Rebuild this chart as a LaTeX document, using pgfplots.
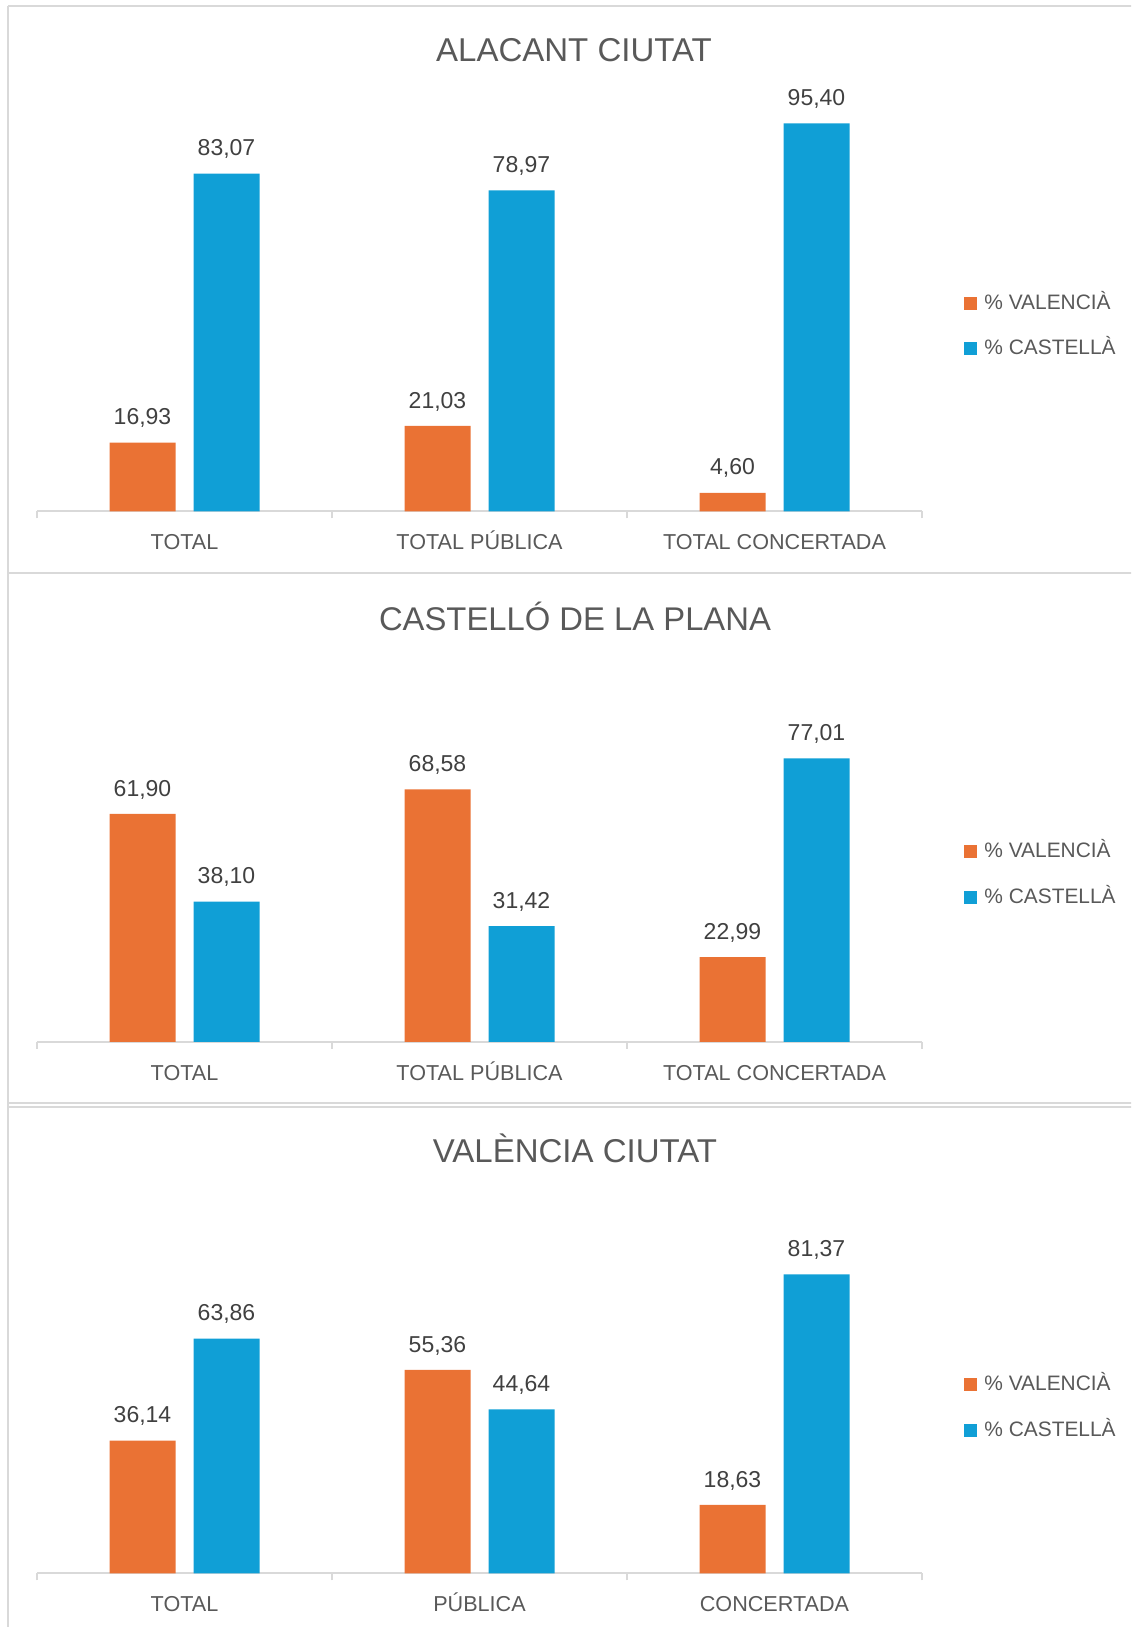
\documentclass[border=0pt]{standalone}
\usepackage{fontspec}
\setmainfont{Liberation Sans}
\usepackage{pgfplots}
\pgfplotsset{compat=1.18}
\definecolor{cOr}{HTML}{EA7234}
\definecolor{cBl}{HTML}{109FD6}
\definecolor{cGr}{HTML}{D9D9D9}
\definecolor{cTx}{HTML}{595959}
\definecolor{cLb}{HTML}{404040}
\pgfplotsset{panel/.style={
  scale only axis, width=442.5pt, ymin=0, ymax=100,
  xmin=-0.5, xmax=2.5, xtick={0,1,2}, major tick length=0pt,
  axis x line*=bottom, axis y line=none,
  axis line style={cGr, line width=1pt},
  ybar=9pt, bar width=33pt,
  clip=false,
  extra x ticks={-0.5,0.5,1.5,2.5}, extra x tick labels={},
  extra x tick style={major tick length=3.5pt, tick align=outside, tick style={cGr, line width=1pt}},
  xticklabel style={font=\fontsize{10.8}{12}\selectfont, text=cTx, anchor=base, yshift=-19.2pt},
  nodes near coords={\pgfmathprintnumber[fixed,fixed zerofill,precision=2,use comma]{\pgfplotspointmeta}},
  nodes near coords style={font=\fontsize{11.5}{13}\selectfont, text=cLb, anchor=south, inner sep=0pt, text depth=0pt, yshift=8.7pt},
  legend style={draw=none, fill=none, inner sep=0pt, anchor=west, font=\fontsize{10.45}{12}\selectfont, text=cTx, row sep=12.75pt, column sep=3.5pt, nodes={inner sep=0pt, text height=8pt, text depth=2pt}},
  legend cell align=left,
  legend image code/.code={\fill[##1] (0pt,-3.25pt) rectangle (6.5pt,3.25pt);},
  /pgf/number format/assume math mode=true,
}}
\begin{document}
\begin{tikzpicture}
\useasboundingbox (0,0) rectangle (565.5pt,813.5pt);
\clip (0,0) rectangle (565.5pt,813.5pt);
\draw[cGr, line width=1pt] (4pt,810.25pt) -- (580pt,810.25pt);
\draw[cGr, line width=1pt] (4pt,810.25pt) -- (4pt,-5pt);
\draw[cGr, line width=1pt] (4pt,527pt) -- (580pt,527pt);
\draw[cGr, line width=1pt] (4pt,262pt) -- (580pt,262pt);
\draw[cGr, line width=1pt] (4pt,260pt) -- (580pt,260pt);
\node[anchor=base, font=\fontsize{16.5}{18}\selectfont, text=cTx, inner sep=0pt] at (287pt,782.6pt) {ALACANT CIUTAT};
\node[anchor=base, font=\fontsize{16.4}{18}\selectfont, text=cTx, inner sep=0pt] at (287.5pt,498.4pt) {CASTELLÓ DE LA PLANA};
\node[anchor=base, font=\fontsize{16.5}{18}\selectfont, text=cTx, inner sep=0pt] at (287.5pt,232.25pt) {VALÈNCIA CIUTAT};
\begin{axis}[panel, at={(18.5pt,557.75pt)}, anchor=south west, height=203.35pt,
  xticklabels={TOTAL, TOTAL PÚBLICA, TOTAL CONCERTADA},
  legend style={at={(1.0475,0.456)}}]
\addplot[fill=cOr, draw=none] coordinates {(0,16.93) (1,21.03) (2,4.60)};
\addlegendentry{\% VALENCIÀ}
\addplot[fill=cBl, draw=none] coordinates {(0,83.07) (1,78.97) (2,95.40)};
\addlegendentry{\% CASTELLÀ}
\end{axis}
\begin{axis}[panel, at={(18.5pt,292.6pt)}, anchor=south west, height=184pt,
  xticklabels={TOTAL, TOTAL PÚBLICA, TOTAL CONCERTADA},
  legend style={at={(1.0475,0.454)}}]
\addplot[fill=cOr, draw=none] coordinates {(0,61.90) (1,68.58) (2,22.99)};
\addlegendentry{\% VALENCIÀ}
\addplot[fill=cBl, draw=none] coordinates {(0,38.10) (1,31.42) (2,77.01)};
\addlegendentry{\% CASTELLÀ}
\end{axis}
\begin{axis}[panel, at={(18.5pt,26.75pt)}, anchor=south west, height=183.85pt,
  xticklabels={TOTAL, PÚBLICA, CONCERTADA},
  legend style={at={(1.0475,0.4516)}}]
\addplot[fill=cOr, draw=none] coordinates {(0,36.14) (1,55.36) (2,18.63)};
\addlegendentry{\% VALENCIÀ}
\addplot[fill=cBl, draw=none] coordinates {(0,63.86) (1,44.64) (2,81.37)};
\addlegendentry{\% CASTELLÀ}
\end{axis}
\end{tikzpicture}
\end{document}
